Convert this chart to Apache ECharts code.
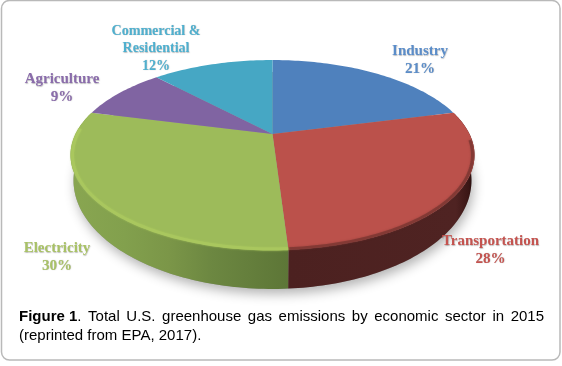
<!DOCTYPE html>
<html><head><meta charset="utf-8">
<style>html,body{margin:0;padding:0;background:#fff}#c{width:562px;height:366px}</style>
<script src="https://cdn.jsdelivr.net/npm/echarts@6/dist/echarts.min.js"></script>
</head><body><div id="c"></div>
<script>
// Data
var categories = ['Industry', 'Transportation', 'Electricity', 'Agriculture', 'Commercial &\nResidential'];
var values = [21, 28, 30, 9, 12];
var captionBold = 'Figure 1';
var captionLine1 = '. Total U.S. greenhouse gas emissions by economic sector in 2015';
var captionLine2 = '(reprinted from EPA, 2017).';

// Styles and layout
var topColors = ['#4f81bd', '#bb514b', '#9dbb5a', '#8064a2', '#46a7c4'];
var labelColors = ['#5b8dc9', '#c4534f', '#a9c266', '#8a6cab', '#4fb0cf'];
var labelPos = [[420, 60], [490.5, 250], [57, 257], [62, 88], [156, 48.5]];
var labelSize = [15, 15, 15, 15, 14];
var wallStops = [
  null,
  [[0, '#4c2120'], [0.9, '#4f2322'], [0.97, '#3a1615'], [1, '#170807']],
  [[0, '#89a651'], [0.25, '#82a04d'], [0.45, '#7b9648'], [0.65, '#6c8741'], [1, '#5d7637']],
  null, null
];
var rimColors = [null, 'rgba(120,52,48,0.7)', '#a9c75e', null, null];
var rimSkipStart = [0, 0.18, 0, 0, 0]; // share of the slice without a rim, at its start
var rimSkipEnd = [0, 0, 0.1, 0, 0];    // share of the slice without a rim, at its end
var P = {cx: 272.5, cy: 134, q: 197, p: -60.7, k: 0.221, inset: 0.99};

function proj(a) { // a: clockwise angle from the back of the disc, radians
  var u = Math.sin(a), v = Math.cos(a), d = 1 + P.k * v;
  return [P.cx + P.q * u / d, (P.cy + P.p * v) / d];
}
function lower(pt) {
  return [P.cx + (pt[0] - P.cx) * 0.985, pt[1] + 12 + 27 * (pt[1] - 60) / 190];
}
function insetPt(pt) {
  return [P.cx + (pt[0] - P.cx) * P.inset, 154 + (pt[1] - 154) * P.inset];
}
var total = values.reduce(function (s, v) { return s + v; }, 0);
function startOf(i) {
  var s = 0;
  for (var j = 0; j < i; j++) s += values[j];
  return s / total * Math.PI * 2;
}
function arc(a0, a1) {
  var n = Math.max(2, Math.ceil((a1 - a0) / 0.02)), out = [];
  for (var i = 0; i <= n; i++) out.push(proj(a0 + (a1 - a0) * i / n));
  return out;
}

function renderItem(params, api) {
  var i = params.dataIndex, val = api.value(0);
  var a0 = startOf(i), a1 = a0 + val / total * Math.PI * 2;
  var top = arc(a0, a1), kids = [];
  if (i === 0) {
    kids.push({type: 'polygon', z2: 0, silent: true,
      shape: {points: arc(0, Math.PI * 2).map(lower)},
      style: {fill: '#999', shadowBlur: 12, shadowColor: 'rgba(0,0,0,0.3)', shadowOffsetX: 2, shadowOffsetY: 5}});
  }
  if (wallStops[i]) {
    var wall = top.concat(top.map(lower).reverse());
    var xs = wall.map(function (p) { return p[0]; });
    var x0 = Math.min.apply(null, xs), x1 = Math.max.apply(null, xs);
    kids.push({type: 'polygon', z2: 1, silent: true, shape: {points: wall},
      style: {fill: new echarts.graphic.LinearGradient(x0, 0, x1, 0,
        wallStops[i].map(function (s) { return {offset: s[0], color: s[1]}; }), true)}});
  }
  kids.push({type: 'polygon', z2: 5, silent: true,
    shape: {points: [[P.cx, P.cy]].concat(top)}, style: {fill: topColors[i]}});
  if (rimColors[i]) {
    var span = a1 - a0;
    var rim = arc(a0 + span * rimSkipStart[i], a1 - span * rimSkipEnd[i]).map(insetPt);
    kids.push({type: 'polyline', z2: 6, silent: true, shape: {points: rim},
      style: {fill: 'none', stroke: rimColors[i], lineWidth: 3, shadowBlur: 2, shadowColor: rimColors[i]}});
  }
  kids.push({type: 'text', z2: 10, silent: true, x: labelPos[i][0], y: labelPos[i][1],
    style: {text: categories[i] + '\n' + val + '%', align: 'center', verticalAlign: 'middle',
      font: 'bold ' + labelSize[i] + 'px "Liberation Serif"', lineHeight: 17.5,
      fill: labelColors[i], textShadowColor: 'rgba(0,0,0,0.25)', textShadowBlur: 1, textShadowOffsetX: 0.5, textShadowOffsetY: 0.5}});
  return {type: 'group', children: kids};
}

// Caption: first line is justified between two edges
var capLeft = 19, capRight = 544, capFont = '15px "Liberation Sans"', capBoldFont = 'bold 15px "Liberation Sans"';
var mc = document.createElement('canvas').getContext('2d');
function tw(t, f) { mc.font = f; return mc.measureText(t).width; }
var words = [{t: captionBold, f: capBoldFont}];
var firstWords = captionLine1.split(' ');
words.push({t: firstWords[0], f: capFont, glue: true});
firstWords.slice(1).forEach(function (w) { words.push({t: w, f: capFont}); });
var used = 0, gaps = 0;
words.forEach(function (w) { used += tw(w.t, w.f); if (!w.glue) gaps++; });
gaps -= 1;
var gap = (capRight - capLeft - used) / gaps, xpos = capLeft;
var graphics = [{type: 'rect', silent: true, z: -1,
  shape: {x: 1.5, y: 0.5, width: 558.5, height: 359.5, r: 8},
  style: {fill: '#fff', stroke: '#b9b9b9', lineWidth: 1.5}}];
words.forEach(function (w, n) {
  if (n > 0 && !w.glue) xpos += gap;
  graphics.push({type: 'text', silent: true, x: xpos, y: 316.5,
    style: {text: w.t, font: w.f, fill: '#000', verticalAlign: 'middle', align: 'left'}});
  xpos += tw(w.t, w.f);
});
graphics.push({type: 'text', silent: true, x: capLeft, y: 335.5,
  style: {text: captionLine2, font: capFont, fill: '#000', verticalAlign: 'middle', align: 'left'}});

var chart = echarts.init(document.getElementById('c'), null, {renderer: 'canvas'});
chart.setOption({
  animation: false,
  backgroundColor: '#fff',
  graphic: graphics,
  series: [{
    type: 'custom',
    coordinateSystem: 'none',
    renderItem: renderItem,
    data: values.map(function (v, i) { return {name: categories[i], value: [v]}; })
  }]
});
</script></body></html>
